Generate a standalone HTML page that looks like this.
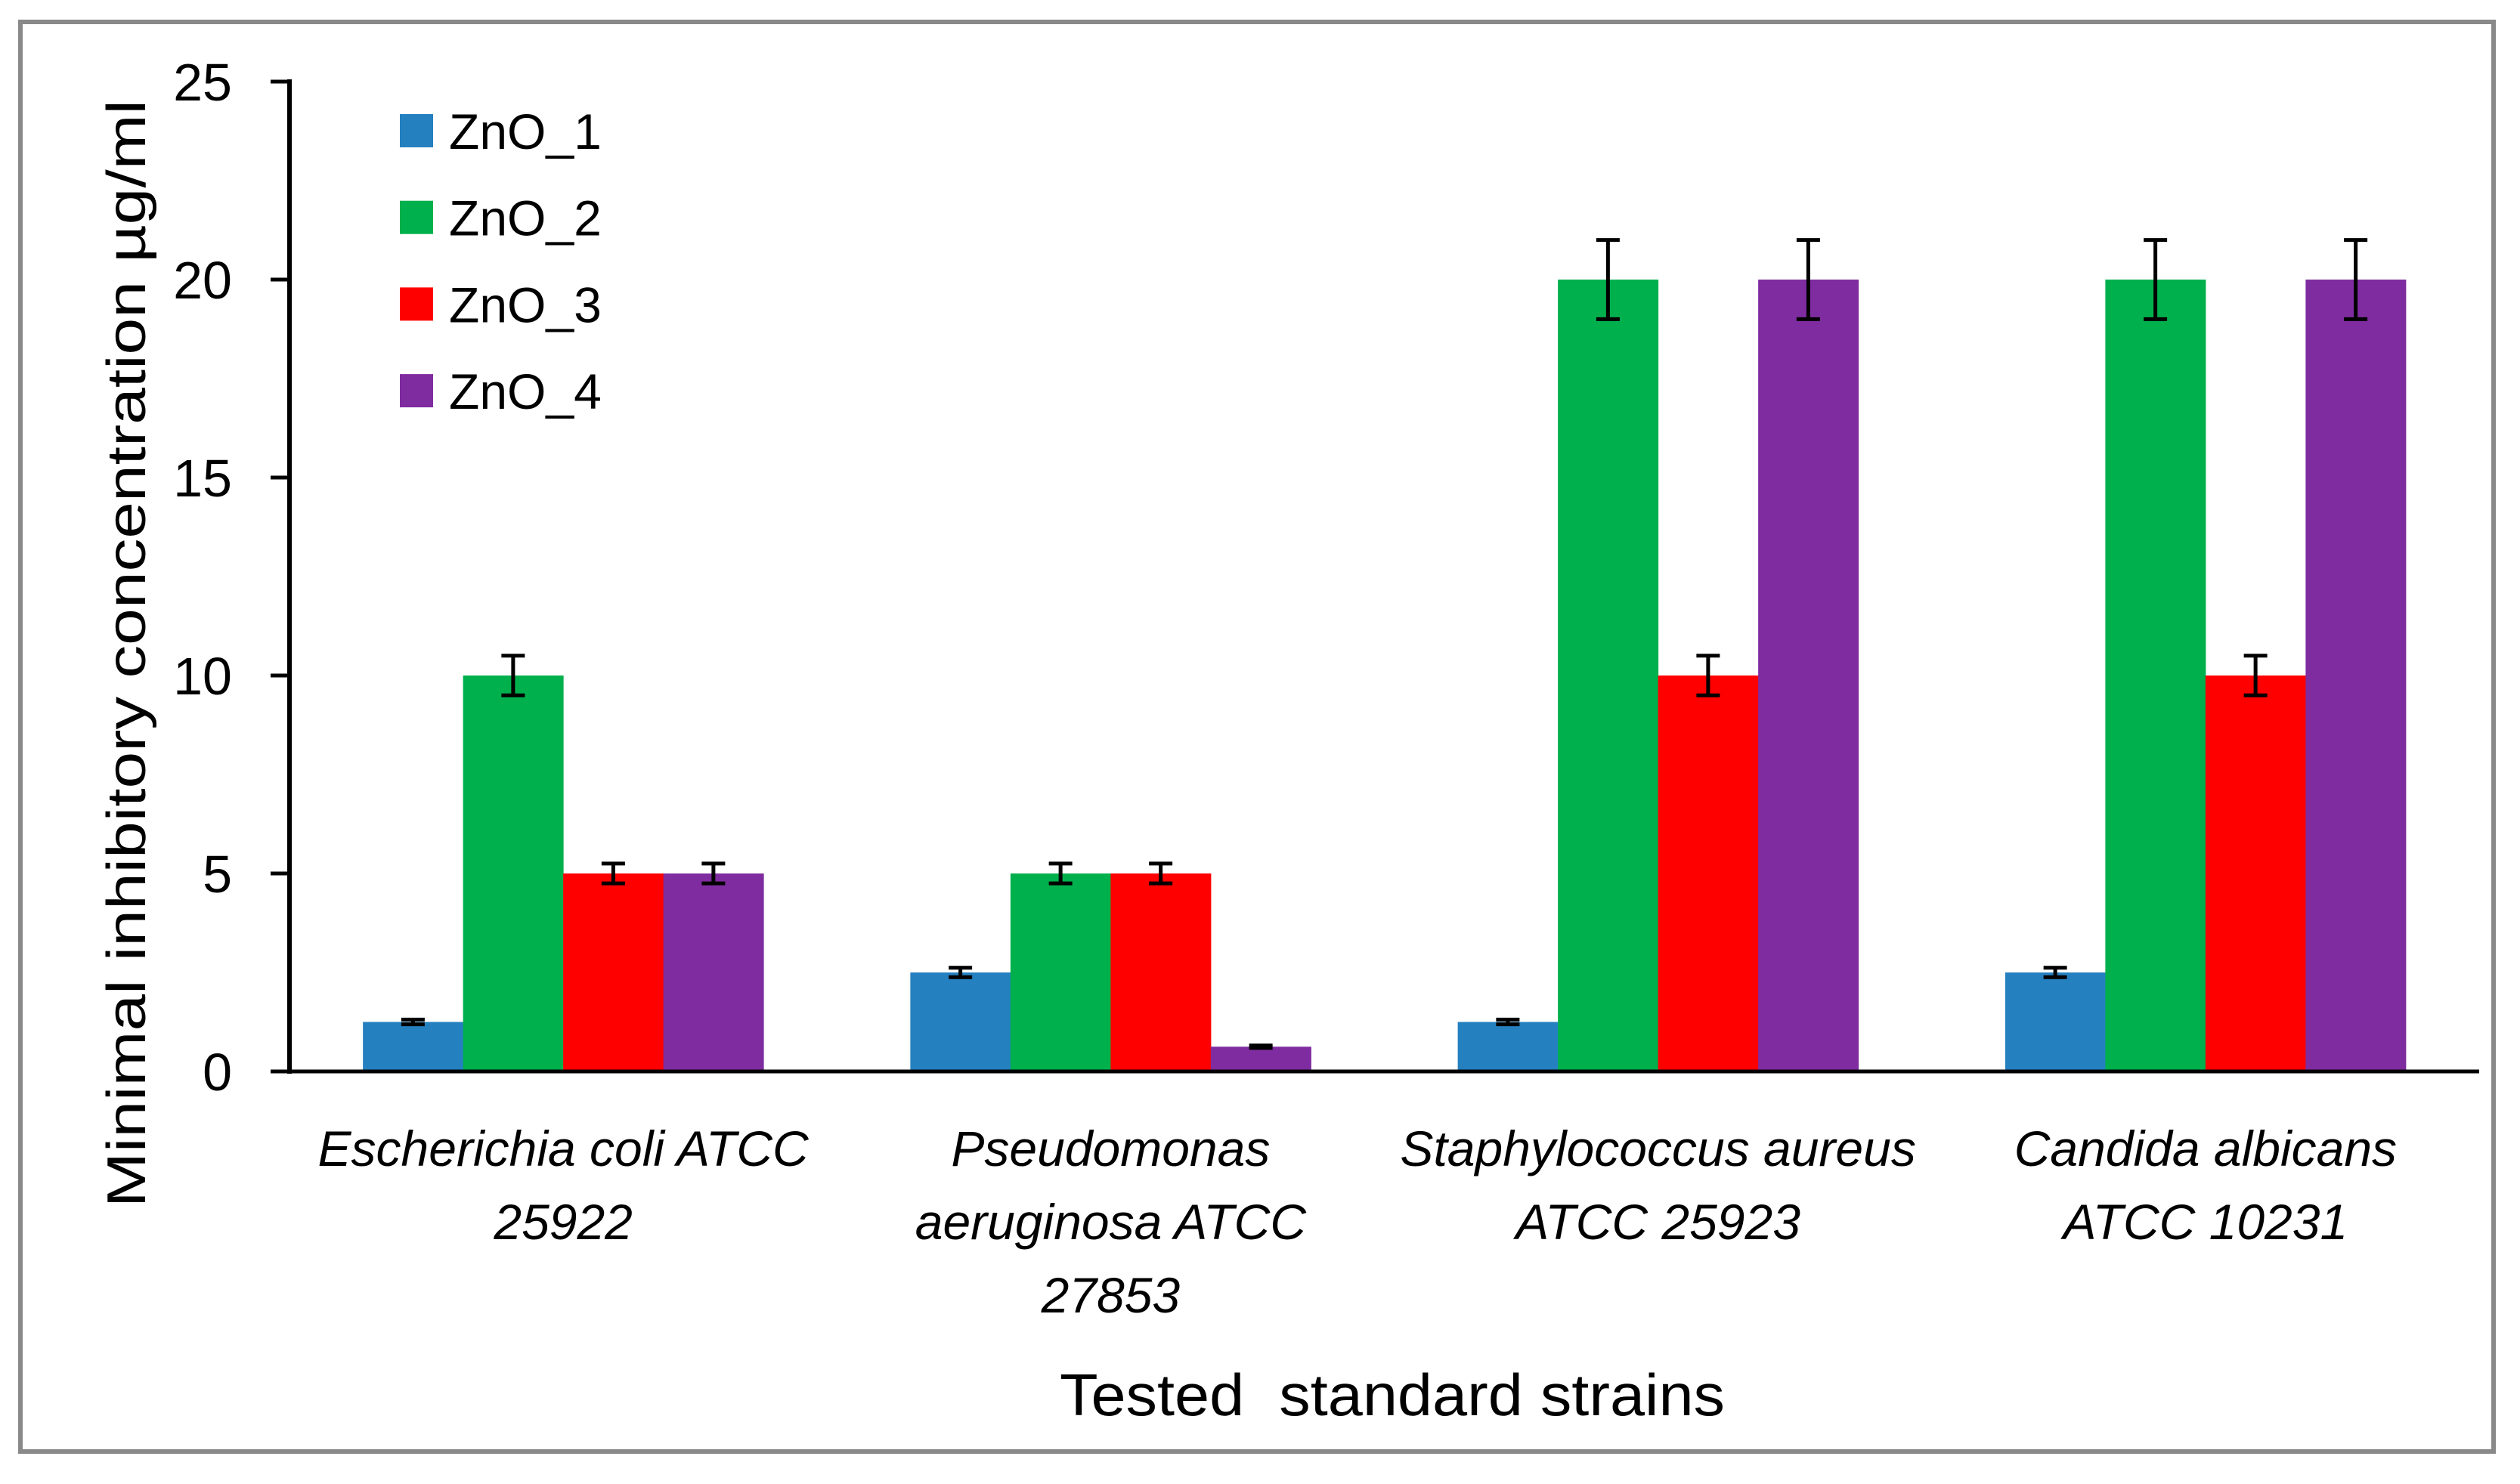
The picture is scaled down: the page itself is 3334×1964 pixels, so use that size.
<!DOCTYPE html>
<html><head><meta charset="utf-8"><style>
html,body{margin:0;padding:0;background:#fff;}
svg{display:block;font-family:"Liberation Sans",sans-serif;}
</style></head><body>
<svg id="chart" width="3334" height="1964" viewBox="0 0 3334 1964" xmlns="http://www.w3.org/2000/svg">
<rect x="27" y="29" width="3272" height="1892" fill="#fff" stroke="#898989" stroke-width="6"/>
<g id="bars"></g>
<g id="errs"></g>
<g id="axes"></g>
<g id="legend"></g>
<text transform="translate(192,865) rotate(-90)" text-anchor="middle" font-size="72" textLength="1466" lengthAdjust="spacingAndGlyphs">Minimal inhibitory concentration µg/ml</text>
<text x="1842" y="1873" text-anchor="middle" font-size="78" textLength="880" lengthAdjust="spacingAndGlyphs" xml:space="preserve">Tested  standard strains</text>
</svg>
<script>
const categories = [["Escherichia coli ATCC","25922"],["Pseudomonas","aeruginosa ATCC","27853"],["Staphylococcus aureus","ATCC 25923"],["Candida albicans","ATCC 10231"]];
const seriesNames = ["ZnO_1","ZnO_2","ZnO_3","ZnO_4"];
const zno1 = [1.25, 2.5, 1.25, 2.5];
const zno2 = [10, 5, 20, 20];
const zno3 = [5, 5, 10, 10];
const zno4 = [5, 0.625, 20, 20];
const err1 = [0.06, 0.12, 0.06, 0.12];
const err2 = [0.5, 0.25, 1, 1];
const err3 = [0.25, 0.25, 0.5, 0.5];
const err4 = [0.25, 0.03, 1, 1];
const yTicks = [0, 5, 10, 15, 20, 25];
const colors = ["#2580C0","#00B04C","#FF0000","#7F2CA0"];

const NS = "http://www.w3.org/2000/svg";
const X0 = 383, X1 = 3280, Y0 = 1418, YTOP = 108, YMAX = 25;
const catW = (X1 - X0) / categories.length;
const barW = 132.5;
function yScale(v){ return Y0 - (Y0 - YTOP) * v / YMAX; }
function xBar(c, s){ return X0 + catW * c + (catW - barW * 4) / 2 + barW * s; }
function mk(tag, attrs, parent){ const e = document.createElementNS(NS, tag); for (const k in attrs) e.setAttribute(k, attrs[k]); parent.appendChild(e); return e; }

const series = [zno1, zno2, zno3, zno4];
const errs = [err1, err2, err3, err4];
const gB = document.getElementById('bars'), gE = document.getElementById('errs'), gA = document.getElementById('axes'), gL = document.getElementById('legend');

series.forEach((vals, s) => {
  vals.forEach((v, c) => {
    const r = mk('rect', {x: xBar(c, s), y: yScale(v), width: barW + 0.5, height: Y0 - yScale(v), fill: colors[s]}, gB);
    
    
    const cx = xBar(c, s) + barW / 2, e = errs[s][c];
    const g = mk('g', {stroke: '#000', 'stroke-width': 5}, gE);
    
    
    mk('line', {x1: cx, x2: cx, y1: yScale(v + e), y2: yScale(v - e)}, g);
    mk('line', {x1: cx - 15.5, x2: cx + 15.5, y1: yScale(v + e), y2: yScale(v + e)}, g);
    mk('line', {x1: cx - 15.5, x2: cx + 15.5, y1: yScale(v - e), y2: yScale(v - e)}, g);
  });
});

const ya = mk('line', {x1: X0, x2: X0, y1: YTOP - 3, y2: Y0 + 3, stroke: '#000', 'stroke-width': 6}, gA);


const xa = mk('line', {x1: 358, x2: X1, y1: Y0, y2: Y0, stroke: '#000', 'stroke-width': 5}, gA);


yTicks.forEach(t => {
  const tk = mk('line', {x1: 358, x2: X0, y1: yScale(t), y2: yScale(t), stroke: '#000', 'stroke-width': 5}, gA);
  
  
  const tl = mk('text', {x: 307, y: yScale(t) + 25, 'text-anchor': 'end', 'font-size': 70}, gA);
  tl.textContent = String(t);
  
  
});
categories.forEach((lines, c) => {
  const cx = X0 + catW * (c + 0.5);
  const t = mk('text', {'text-anchor': 'middle', 'font-size': 66, 'font-style': 'italic'}, gA);
  
  
  lines.forEach((ln, i) => { const sp = mk('tspan', {x: cx, y: 1543 + 97 * i}, t); sp.textContent = ln; });
});
seriesNames.forEach((n, s) => {
  const cy = 173 + 114.7 * s;
  const g = mk('g', {}, gL);
  
  
  mk('rect', {x: 529, y: cy - 22, width: 44, height: 44, fill: colors[s]}, g);
  const tx = mk('text', {x: 594, y: cy + 24, 'font-size': 66}, g);
  tx.textContent = n;
});
</script>
</body></html>
